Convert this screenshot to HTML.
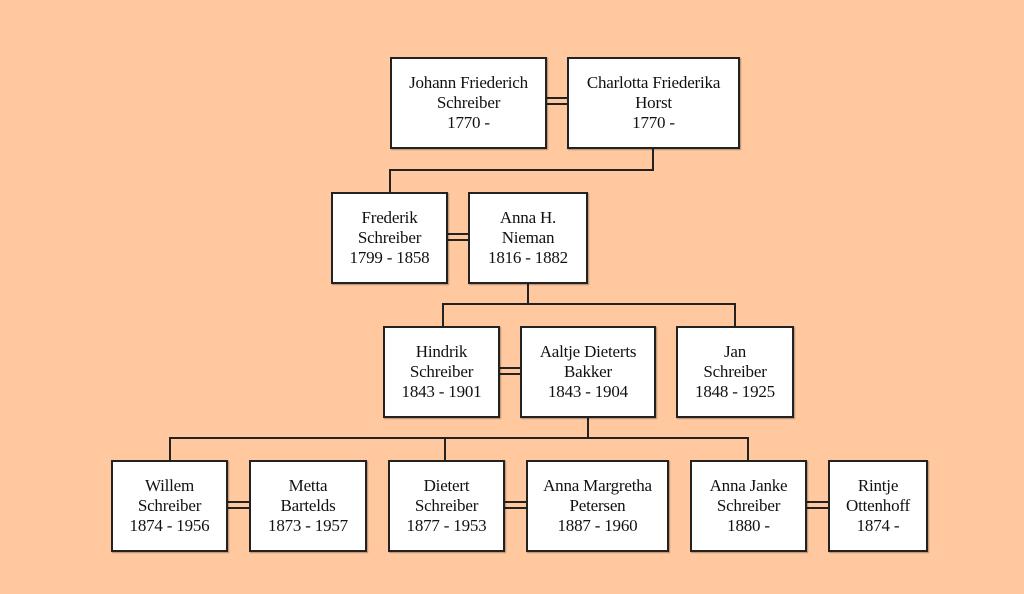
<!DOCTYPE html>
<html><head><style>
body{margin:0;width:1024px;height:594px;background:#FFC89F;position:relative;overflow:hidden;font-family:"Liberation Serif",serif}
.b{position:absolute;background:#fff;border:2px solid #222;box-sizing:border-box;display:flex;align-items:center;justify-content:center;text-align:center;font-size:17px;letter-spacing:-0.2px;line-height:20px;color:#111;box-shadow:1px 1px 1px rgba(0,0,0,.3)}
</style></head><body>
<svg width="1024" height="594" style="position:absolute;left:0;top:0" stroke="#222" stroke-width="2" fill="none">
<polyline points="653,148 653,170 390,170 390,192"/>
<polyline points="528,283 528,304"/>
<polyline points="443,326 443,304 735,304 735,326"/>
<polyline points="588,417 588,438"/>
<polyline points="170,460 170,438 748,438 748,460"/>
<line x1="445" y1="438" x2="445" y2="460"/>
<line x1="546" y1="98" x2="567" y2="98"/><line x1="546" y1="104" x2="567" y2="104"/>
<line x1="447" y1="234" x2="468" y2="234"/><line x1="447" y1="240" x2="468" y2="240"/>
<line x1="499" y1="368" x2="520" y2="368"/><line x1="499" y1="374" x2="520" y2="374"/>
<line x1="227" y1="502" x2="249" y2="502"/><line x1="227" y1="508" x2="249" y2="508"/>
<line x1="504" y1="502" x2="526" y2="502"/><line x1="504" y1="508" x2="526" y2="508"/>
<line x1="806" y1="502" x2="828" y2="502"/><line x1="806" y1="508" x2="828" y2="508"/>
</svg>
<div class="b" style="left:390px;top:57px;width:157px;height:92px">Johann Friederich<br>Schreiber<br>1770 -</div>
<div class="b" style="left:567px;top:57px;width:173px;height:92px">Charlotta Friederika<br>Horst<br>1770 -</div>
<div class="b" style="left:331px;top:192px;width:117px;height:92px">Frederik<br>Schreiber<br>1799 - 1858</div>
<div class="b" style="left:468px;top:192px;width:120px;height:92px">Anna H.<br>Nieman<br>1816 - 1882</div>
<div class="b" style="left:383px;top:326px;width:117px;height:92px">Hindrik<br>Schreiber<br>1843 - 1901</div>
<div class="b" style="left:520px;top:326px;width:136px;height:92px">Aaltje Dieterts<br>Bakker<br>1843 - 1904</div>
<div class="b" style="left:676px;top:326px;width:118px;height:92px">Jan<br>Schreiber<br>1848 - 1925</div>
<div class="b" style="left:111px;top:460px;width:117px;height:92px">Willem<br>Schreiber<br>1874 - 1956</div>
<div class="b" style="left:249px;top:460px;width:118px;height:92px">Metta<br>Bartelds<br>1873 - 1957</div>
<div class="b" style="left:388px;top:460px;width:117px;height:92px">Dietert<br>Schreiber<br>1877 - 1953</div>
<div class="b" style="left:526px;top:460px;width:143px;height:92px">Anna Margretha<br>Petersen<br>1887 - 1960</div>
<div class="b" style="left:690px;top:460px;width:117px;height:92px">Anna Janke<br>Schreiber<br>1880 -</div>
<div class="b" style="left:828px;top:460px;width:100px;height:92px">Rintje<br>Ottenhoff<br>1874 -</div>
</body></html>
